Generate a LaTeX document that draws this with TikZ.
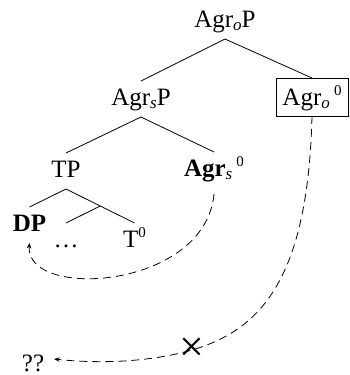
\documentclass[tikz,border=0pt]{standalone}
\usepackage{fontspec}
\setmainfont{Liberation Serif}
\usetikzlibrary{calc,arrows.meta}
\newcommand\mysub[1]{\raisebox{-3pt}{\fontsize{17}{20}\selectfont\itshape #1}}
\newcommand\mysup[1]{\raisebox{10pt}{\fontsize{15}{18}\selectfont #1}}
\begin{document}
\begin{tikzpicture}[x=1pt,y=-1pt,
  lab/.style={inner sep=0pt,outer sep=6pt,text height=18pt,text depth=6pt,anchor=base,font=\fontsize{25}{30}\selectfont},
  headbox/.style={draw,line width=0.8pt,inner sep=0pt,outer sep=0pt,minimum width=72pt,minimum height=38pt,text height=20pt,text depth=4pt,font=\fontsize{25}{30}\selectfont},
  edge/.style={line width=0.8pt},
  mv/.style={line width=0.8pt,dash pattern=on 8pt off 5pt,-{Stealth[length=5.5pt,width=4.5pt]}}]
\useasboundingbox (0,0) rectangle (349,375);
\node[lab] (agrop) at (225,27) {Agr\mysub{o}P};
\node[lab] (agrsp) at (141,105) {Agr\mysub{s}P};
\node[headbox] (agro0) at (312,97) {Agr\mysub{o}\,\mysup{0}};
\node[lab] (tp) at (66,177) {TP};
\node[lab] (agrs0) at (214,176) {\textbf{Agr}\mysub{s}\,\mysup{0}};
\node[lab] (dp) at (29.5,231) {\textbf{DP}};
\node[lab] (dots) at (66,247) {\dots};
\node[lab] (t0) at (134.5,247) {T\mysup{0}};
\node[lab,text depth=0pt] (qq) at (33,371) {??};
\coordinate (qqtip) at ([shift={(4pt,3pt)}]qq.east);
\draw[edge] (agrop.south) -- (agrsp.north);
\draw[edge] (agrop.south) -- (agro0.north);
\draw[edge] (agrsp.south) -- (tp.north);
\draw[edge] (agrsp.south) -- (agrs0.north);
\draw[edge] (tp.south) -- (dp.north);
\draw[edge] (tp.south) -- (t0.north);
\coordinate (tbar) at ($(tp.south)!0.5!(t0.north)$);
\draw[edge] (tbar) -- (dots.north);
\draw[mv] ([yshift=-6pt]agrs0.south) .. controls (205,290) and (25,300) .. (dp.south);
\coordinate (xm) at (192,350);
\draw[mv] (agro0.south) .. controls (308,280) and (260,330) .. (xm) .. controls (150,362) and (100,364) .. (qqtip);
\node[font=\fontsize{44}{46}\selectfont,inner sep=0pt] (xmark) at (xm) {×};
\end{tikzpicture}
\end{document}
